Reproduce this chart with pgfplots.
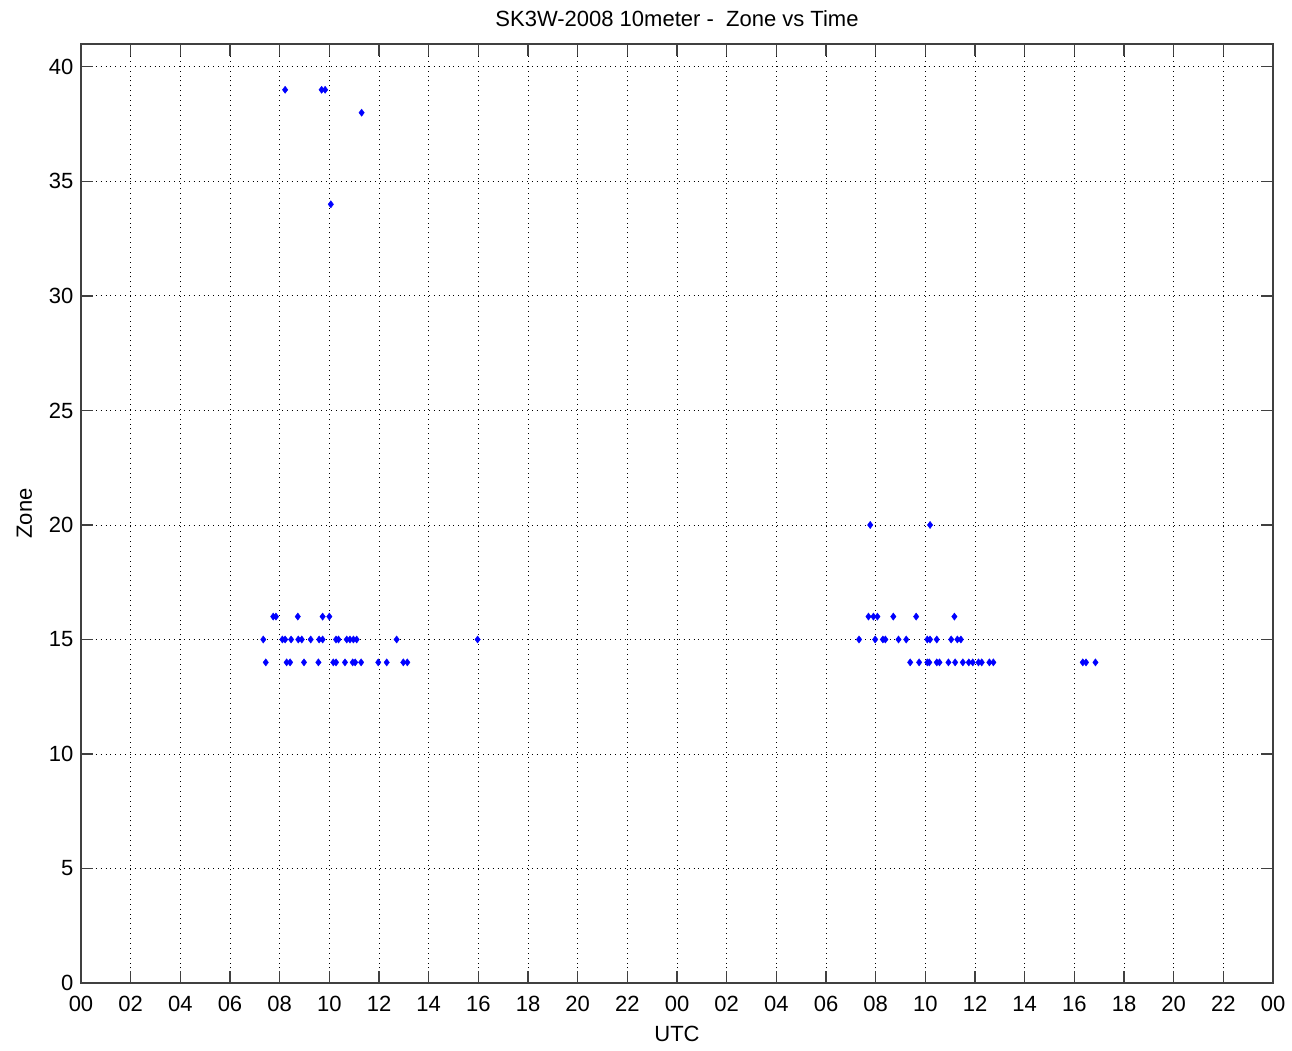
\documentclass[border=0pt]{standalone}
\usepackage{fontspec}
\setmainfont{Liberation Sans}
\usepackage{pgfplots}
\pgfplotsset{compat=1.18}
\begin{document}
\begin{tikzpicture}
\begin{axis}[
  scale only axis,
  width=1192pt, height=939pt,
  xmin=0, xmax=48, ymin=0, ymax=41,
  xtick={0,2,...,48},
  xticklabels={00,02,04,06,08,10,12,14,16,18,20,22,00,02,04,06,08,10,12,14,16,18,20,22,00},
  ytick={0,5,...,40},
  /pgf/number format/assume math mode=true,
  tick label style={font=\fontsize{22}{25}\selectfont},
  xticklabel style={yshift=-10pt},
  yticklabel style={xshift=-4pt},
  label style={font=\fontsize{22}{25}\selectfont},
  title style={font=\fontsize{22}{25}\selectfont, yshift=8pt},
  title={SK3W-2008 10meter -\ \ Zone vs Time},
  xlabel={UTC}, ylabel={Zone},
  xlabel style={yshift=-7pt},
  ylabel style={yshift=10pt},
  grid=major,
  major grid style={black, line width=0.9pt, dash pattern=on 0.9pt off 4pt},
  tick align=inside,
  major tick length=12pt,
  tick style={solid, black!75, line width=1.2pt},
  axis line style={black!75, line width=1.2pt},
  xtick pos=both, ytick pos=both,
]
\addplot[only marks, blue, mark=diamond*, mark size=3.6pt] coordinates {
(7.74,16) (7.85,16) (8.73,16) (9.73,16) (10.0,16)
(7.34,15) (8.11,15) (8.22,15) (8.46,15) (8.75,15) (8.89,15) (9.25,15) (9.59,15) (9.73,15) (10.27,15) (10.37,15) (10.70,15) (10.83,15) (10.97,15) (11.10,15) (12.71,15) (15.97,15)
(7.44,14) (8.28,14) (8.42,14) (8.98,14) (9.56,14) (10.16,14) (10.27,14) (10.63,14) (10.94,14) (11.04,14) (11.28,14) (11.97,14) (12.31,14) (12.98,14) (13.14,14)
(8.22,39) (9.69,39) (9.83,39) (11.30,38) (10.06,34)
(31.78,20) (34.19,20)
(31.71,16) (31.91,16) (32.07,16) (32.71,16) (33.63,16) (35.17,16)
(31.33,15) (31.98,15) (32.29,15) (32.39,15) (32.92,15) (33.23,15) (34.08,15) (34.19,15) (34.46,15) (35.04,15) (35.29,15) (35.43,15)
(33.39,14) (33.75,14) (34.08,14) (34.16,14) (34.46,14) (34.57,14) (34.93,14) (35.20,14) (35.51,14) (35.75,14) (35.91,14) (36.14,14) (36.27,14) (36.58,14) (36.74,14) (40.34,14) (40.47,14) (40.85,14)
};
\end{axis}
\pgfresetboundingbox
\path (current axis.south west) ++(-81pt,-67pt) coordinate (bl);
\path (current axis.north east) ++(19pt,44pt) coordinate (tr);
\path (bl) rectangle (tr);
\end{tikzpicture}
\end{document}
